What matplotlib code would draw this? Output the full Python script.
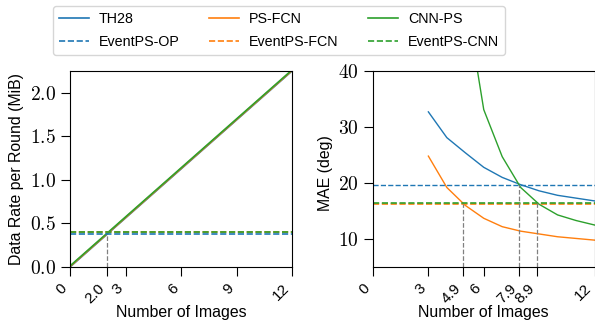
import numpy as np
import matplotlib
matplotlib.use("Agg")
import matplotlib.pyplot as plt
from matplotlib.ticker import FuncFormatter

plt.rcParams['font.family'] = ['Liberation Sans', 'DejaVu Sans']
plt.rcParams['mathtext.fontset'] = 'cm'
plt.rcParams['font.size'] = 10

# данные: скорость передачи (левый график)
n_rate = [0, 12]
rate_th28 = [0.0, 2.25]
rate_psfcn = [0.005, 2.255]
rate_cnnps = [0.012, 2.262]
rate_op = 0.378
rate_fcn = 0.401
rate_cnn = 0.404
rate_cross = 2.0

# данные: MAE (правый график)
n_imgs = [3, 4, 5, 6, 7, 8, 9, 10, 11, 12]
mae_th28 = [32.7, 28.1, 25.4, 22.8, 21.0, 19.7, 18.6, 17.8, 17.3, 16.8]
mae_psfcn = [24.8, 19.2, 16.0, 13.7, 12.2, 11.4, 10.9, 10.4, 10.1, 9.8]
mae_cnnps = [90.0, 70.0, 53.4, 33.1, 24.7, 19.2, 16.2, 14.3, 13.3, 12.5]
mae_op = 19.7
mae_fcn = 16.3
mae_cnn = 16.5
cross_x = [4.9, 7.9, 8.9]
cross_y = [16.3, 19.7, 16.5]

left_ticks = [0, 2.0, 3, 6, 9, 12]
left_labels = ['0', '2.0', '3', '6', '9', '12']
right_ticks = [0, 3, 4.9, 6, 7.9, 8.9, 12]
right_labels = ['0', '3', '4.9', '6', '7.9', '8.9', '12']

c_blue, c_orange, c_green = '#1f77b4', '#ff7f0e', '#2ca02c'

fig = plt.figure(figsize=(5.95, 3.2), dpi=100)
ax1 = fig.add_axes([70/595, 53/320, 222/595, 196/320])
ax2 = fig.add_axes([373/595, 53/320, 221.5/595, 196/320])

# левый график
ax1.plot(n_rate, rate_th28, color=c_blue, lw=1.2, label='TH28')
ax1.plot(n_rate, rate_psfcn, color=c_orange, lw=1.2, label='PS-FCN')
ax1.plot(n_rate, rate_cnnps, color=c_green, lw=1.2, label='CNN-PS')
ax1.axhline(rate_op, color=c_blue, ls='--', lw=1.2, label='EventPS-OP')
ax1.axhline(rate_fcn, color=c_orange, ls='--', lw=1.2, label='EventPS-FCN')
ax1.axhline(rate_cnn, color=c_green, ls='--', lw=1.2, label='EventPS-CNN')
ax1.plot([rate_cross, rate_cross], [0, rate_op], color='gray', ls='--', lw=0.9)
ax1.set_xlim(0, 12)
ax1.set_ylim(0, 2.25)
ax1.set_yticks([0.0, 0.5, 1.0, 1.5, 2.0])
ax1.yaxis.set_major_formatter(FuncFormatter(lambda v, p: r'$%.1f$' % v))
ax1.set_xticks(left_ticks)
ax1.set_xticklabels(left_labels, rotation=45, ha='right')
ax1.set_xlabel('Number of Images', fontsize=11.4)
ax1.set_ylabel('Data Rate per Round (MiB)', fontsize=11.4)
ax1.yaxis.set_label_coords(-0.207, 0.5)
ax1.xaxis.set_label_coords(0.5, -0.195)

# правый график
ax2.plot(n_imgs, mae_th28, color=c_blue, lw=1.0)
ax2.plot(n_imgs, mae_psfcn, color=c_orange, lw=1.0)
ax2.plot(n_imgs, mae_cnnps, color=c_green, lw=1.0)
ax2.axhline(mae_op, color=c_blue, ls='--', lw=1.0)
ax2.axhline(mae_fcn, color=c_orange, ls='--', lw=1.2)
ax2.axhline(mae_cnn, color=c_green, ls='--', lw=1.2)
for x, y in zip(cross_x, cross_y):
    ax2.plot([x, x], [5, y], color='gray', ls='--', lw=0.9)
ax2.set_xlim(0, 12)
ax2.set_ylim(5, 40)
ax2.set_yticks([10, 20, 30, 40])
ax2.yaxis.set_major_formatter(FuncFormatter(lambda v, p: r'$%d$' % v))
ax2.set_xticks(right_ticks)
ax2.set_xticklabels(right_labels, rotation=45, ha='right')
ax2.set_xlabel('Number of Images', fontsize=11.4)
ax2.set_ylabel('MAE (deg)', fontsize=11.4)
ax2.yaxis.set_label_coords(-0.18, 0.48)
ax2.xaxis.set_label_coords(0.5, -0.195)

for ax in (ax1, ax2):
    ax.tick_params(axis='both', length=6.5)
    ax.tick_params(axis='y', labelsize=14)
    ax.tick_params(axis='x', labelsize=11)

h, l = ax1.get_legend_handles_labels()
order = [0, 3, 1, 4, 2, 5]
fig.legend([h[i] for i in order], [l[i] for i in order], ncol=3,
           loc='upper left', bbox_to_anchor=(53/595, 1 - 6/320),
           borderaxespad=0, fontsize=10.3, columnspacing=2.05, handlelength=2.1,
           handletextpad=0.7, borderpad=0.4, labelspacing=0.64)

fig.savefig('out.png', dpi=100)
